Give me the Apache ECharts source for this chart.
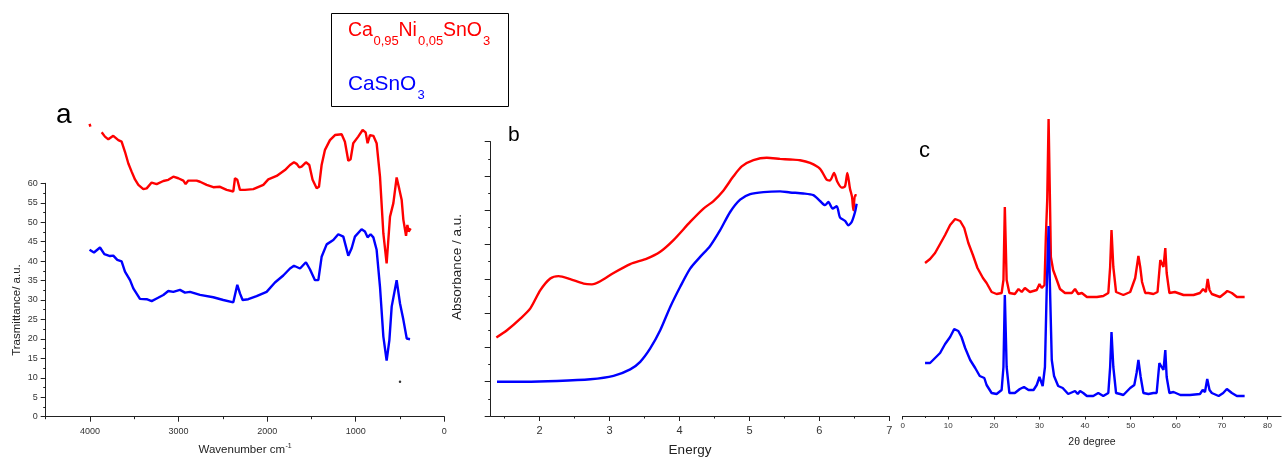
<!DOCTYPE html>
<html>
<head>
<meta charset="utf-8">
<script src="https://cdn.jsdelivr.net/npm/echarts@6/dist/echarts.min.js"></script>
<style>html,body{margin:0;padding:0;background:#fff;}#c{width:1283px;height:457px;}</style>
</head>
<body>
<div id="c"></div>
<script>
// ---------- DATA ----------
// Panel a: FTIR (wavenumber cm-1, transmittance)
const ftirNi = [[4005,75.3],[3995,74.6],[3940,null],[3868,73.1],[3831,72],[3793,71.3],[3737,72.2],[3680,71.1],[3643,70.7],[3605,68.1],[3567,65.1],[3530,63],[3492,61],[3454,59.6],[3398,58.5],[3360,58.7],[3304,60.2],[3247,59.8],[3172,60.6],[3116,60.9],[3059,61.7],[3003,61.3],[2946,60.7],[2920,59.8],[2890,60.7],[2796,60.7],[2758,60.4],[2683,59.6],[2608,59],[2532,59.1],[2457,58.3],[2382,57.9],[2363,61.3],[2337,60.9],[2307,58.3],[2250,58.3],[2156,58.5],[2043,59.6],[1987,61],[1893,61.9],[1799,63.4],[1742,64.7],[1697,65.4],[1667,65],[1637,64.1],[1611,64.3],[1562,65.4],[1524,64.7],[1487,60.9],[1441,58.7],[1415,59.1],[1385,64.7],[1347,68.6],[1291,71.1],[1234,72.4],[1159,72.6],[1122,70.7],[1084,65.8],[1058,66.2],[1028,70.3],[972,72],[922,73.7],[888,73.1],[866,70.3],[839,72.4],[801,72.2],[764,70.3],[726,61.7],[688,47.1],[651,39.4],[613,51.4],[575,54.9],[538,61.5],[508,58.5],[481,55.7],[462,50.6],[432,46.5],[417,49.3],[402,47.6],[380,48.4]];
const ftirCaSnO3 = [[4005,42.9],[3955,42.2],[3887,43.5],[3838,41.8],[3774,41.3],[3737,41.4],[3692,40.3],[3643,39.9],[3605,37.3],[3548,35.1],[3511,33],[3436,30.3],[3360,30.2],[3304,29.7],[3247,30.4],[3172,31.3],[3116,32.3],[3059,32.1],[2984,32.6],[2928,31.9],[2871,32.1],[2758,31.3],[2608,30.7],[2495,30],[2382,29.4],[2337,33.9],[2307,31.7],[2277,30],[2213,30.2],[2119,31],[2006,32.1],[1912,34.5],[1818,36.3],[1742,38.1],[1697,38.8],[1629,38.1],[1562,39.7],[1517,37.9],[1460,35.1],[1422,35.1],[1385,41.1],[1328,44.3],[1253,45.4],[1197,46.9],[1140,46.3],[1084,41.4],[1046,43.3],[1009,46.3],[934,48.2],[896,47.6],[866,46.1],[832,46.9],[801,46.1],[764,42.9],[726,33.4],[688,20.6],[651,14.4],[620,19.7],[594,28.3],[538,35.1],[500,29.1],[462,24.9],[424,20.1],[387,19.9]];
const ftirDot = [[500,9]];
const ftirYTicks = [0,60,5];      // min, max, step
const ftirXTicks = [0,4500,1000];

// Panel b: UV-Vis absorbance vs energy
const uvNi = [[1.381,2.29],[1.533,2.50],[1.724,2.84],[1.867,3.14],[2.01,3.67],[2.152,4.01],[2.271,4.08],[2.438,3.99],[2.629,3.86],[2.748,3.84],[2.867,3.93],[3.057,4.17],[3.295,4.43],[3.533,4.59],[3.724,4.79],[3.914,5.13],[4.152,5.66],[4.343,6.05],[4.486,6.27],[4.629,6.58],[4.771,6.99],[4.89,7.28],[5.057,7.46],[5.248,7.53],[5.438,7.50],[5.581,7.48],[5.724,7.46],[5.867,7.38],[6.01,7.21],[6.105,6.89],[6.152,6.87],[6.21,7.09],[6.257,6.83],[6.319,6.66],[6.367,6.70],[6.40,7.09],[6.438,6.63],[6.467,6.39],[6.486,6.00],[6.51,6.44],[6.533,6.44]];
const uvCaSnO3 = [[1.39,1.00],[1.771,1.00],[2.248,1.02],[2.724,1.07],[3.057,1.17],[3.295,1.36],[3.438,1.58],[3.581,1.97],[3.724,2.50],[3.867,3.18],[4.01,3.77],[4.152,4.30],[4.295,4.64],[4.438,4.96],[4.581,5.42],[4.724,5.95],[4.867,6.31],[5.01,6.47],[5.2,6.53],[5.438,6.55],[5.581,6.52],[5.771,6.49],[5.914,6.44],[6.01,6.27],[6.081,6.15],[6.129,6.24],[6.19,6.05],[6.248,6.12],[6.295,5.79],[6.367,5.69],[6.414,5.56],[6.462,5.66],[6.51,5.95],[6.533,6.19]];
const uvXTicks = [1.3,7];
const uvYTicks = [0,8,1];

// Panel c: XRD (2θ degree, intensity a.u.)
const xrdNi = [[4.9,153],[6.0,157],[7.1,163],[8.2,172],[9.3,181],[10.4,191],[11.5,197],[12.6,195],[13.5,188],[14.4,173],[15.4,161],[16.4,148],[17.6,138],[18.4,133],[19.5,124],[20.6,122],[21.7,123],[22.1,136],[22.4,209],[22.8,136],[23.4,123],[24.6,122],[25.4,127],[26.1,124],[26.8,128],[27.9,124],[29.4,126],[30.0,132],[30.5,128],[31.1,131],[31.4,179],[31.7,216],[32.0,297],[32.3,216],[32.5,159],[33.0,146],[33.8,136],[34.5,127],[35.6,123],[37.1,123],[37.8,127],[38.5,122],[39.3,123],[40.4,119],[42.6,119],[44.0,120],[45.1,123],[45.5,149],[45.8,186],[46.2,149],[46.8,124],[48.4,121],[49.9,124],[51.0,138],[51.7,160],[52.1,149],[52.5,134],[53.2,123],[53.9,123],[55.0,122],[55.9,124],[56.5,156],[56.8,153],[57.2,149],[57.6,168],[57.9,143],[58.5,123],[59.7,124],[61.6,121],[63.8,121],[65.2,123],[65.9,127],[66.5,124],[66.9,137],[67.3,126],[67.8,122],[69.6,119],[70.7,123],[71.2,125],[72.2,123],[73.3,119],[74.4,119],[75.0,119]];
const xrdCaSnO3 = [[4.9,53],[6.0,53],[7.1,58],[8.2,63],[9.3,72],[10.4,79],[11.3,87],[12.2,85],[12.9,79],[13.7,68],[14.8,56],[15.9,48],[16.9,40],[17.9,38],[18.4,31],[19.5,23],[20.6,22],[21.7,26],[22.1,49],[22.4,121],[22.8,49],[23.4,23],[24.6,23],[25.7,27],[26.6,29],[27.6,26],[28.7,26],[29.4,31],[30.0,39],[30.7,30],[31.2,49],[31.6,129],[32.0,190],[32.3,129],[32.7,56],[33.2,40],[34.1,30],[35.1,28],[36.3,22],[37.8,25],[38.4,22],[38.9,25],[39.6,23],[40.4,20],[41.8,20],[42.9,23],[44.0,20],[45.1,23],[45.5,49],[45.8,84],[46.2,49],[46.8,23],[47.7,22],[48.4,21],[49.9,28],[50.8,31],[51.3,43],[51.7,56],[52.2,39],[52.8,23],[53.9,22],[55.0,23],[55.7,23],[56.3,53],[56.8,49],[57.2,46],[57.6,66],[57.9,39],[58.5,23],[59.4,24],[60.9,21],[63.0,21],[65.2,22],[65.8,26],[66.3,24],[66.8,37],[67.3,26],[67.8,23],[69.3,20],[70.3,23],[71.1,27],[72.2,23],[73.3,20],[75.0,20]];
const xrdXTicks = [0,83,10];

const RED = '#ff0000', BLUE = '#0000ff';
const FONT = '"Liberation Sans", Arial, sans-serif';

// ---------- CHART ----------
const chart = echarts.init(document.getElementById('c'), null, {renderer:'canvas'});

const axisCol = '#222';
const plain = v => String(v);
function baseAxis(extra){
  return Object.assign({
    type:'value', splitLine:{show:false},
    axisLine:{show:true, onZero:false, lineStyle:{color:axisCol, width:1}},
    axisTick:{show:true, inside:false, length:5, lineStyle:{color:axisCol}},
    axisLabel:{color:'#333', fontFamily:FONT, fontSize:9, formatter:plain}
  }, extra);
}
function minorAxis(extra){
  return Object.assign({
    type:'value', position:'bottom', splitLine:{show:false},
    axisLine:{show:false, onZero:false},
    axisTick:{show:true, inside:false, length:2.5, lineStyle:{color:axisCol}},
    axisLabel:{show:false}
  }, extra);
}

const pxB = 398.6/(uvXTicks[1]-uvXTicks[0]);
const pxC = 378.4/(xrdXTicks[1]-xrdXTicks[0]);

const lineSeries = (name, data, color, xi, yi, smooth) => ({
  type:'line', name, data, xAxisIndex:xi, yAxisIndex:yi,
  showSymbol:false, symbol:'none', clip:false, smooth: smooth || false,
  lineStyle:{color, width:2.4}, itemStyle:{color}, connectNulls:false, silent:true
});

const option = {
  animation:false,
  backgroundColor:'#fff',
  grid:[
    {left:45.7, top:183.3, width:398.6, height:233.4, outerBoundsMode:'none'},
    {left:490.7, top:141.7, width:398.6, height:274.3, outerBoundsMode:'none'},
    {left:902.7, top:116, width:378.4, height:300, outerBoundsMode:'none'},
    {left:490.7 + 0.2*pxB, top:141.7, width:5.5*pxB, height:274.3, outerBoundsMode:'none'},
    {left:902.7 + 5*pxC, top:116, width:70*pxC, height:300, outerBoundsMode:'none'}
  ],
  xAxis:[
    baseAxis({gridIndex:0, position:'bottom', min:ftirXTicks[0], max:ftirXTicks[1], interval:ftirXTicks[2], inverse:true,
      axisLabel:{color:'#333', fontFamily:FONT, fontSize:9, margin:10, showMaxLabel:false, formatter:plain}}),
    baseAxis({gridIndex:1, position:'bottom', min:uvXTicks[0], max:uvXTicks[1],
      axisLabel:{color:'#333', fontFamily:FONT, fontSize:11, margin:9, showMinLabel:false, formatter:plain}}),
    baseAxis({gridIndex:2, position:'bottom', min:xrdXTicks[0], max:xrdXTicks[1], interval:xrdXTicks[2],
      axisTick:{show:true, length:3.5, lineStyle:{color:axisCol}},
      axisLabel:{color:'#333', fontFamily:FONT, fontSize:8, margin:6, showMaxLabel:false, formatter:plain}}),
    minorAxis({gridIndex:0, min:ftirXTicks[0], max:ftirXTicks[1], interval:500, inverse:true}),
    minorAxis({gridIndex:3, min:1.5, max:7, interval:1}),
    minorAxis({gridIndex:4, min:5, max:75, interval:10, axisTick:{show:true, length:2, lineStyle:{color:axisCol}}})
  ],
  yAxis:[
    baseAxis({gridIndex:0, position:'left', min:ftirYTicks[0], max:ftirYTicks[1], interval:ftirYTicks[2],
      minorTick:{show:true, splitNumber:2, length:2.5, lineStyle:{color:axisCol}},
      axisLabel:{color:'#333', fontFamily:FONT, fontSize:9, margin:8, formatter:plain}}),
    baseAxis({gridIndex:1, position:'left', min:uvYTicks[0], max:uvYTicks[1], interval:uvYTicks[2],
      axisTick:{show:true, length:6, lineStyle:{color:axisCol}},
      minorTick:{show:true, splitNumber:2, length:2.5, lineStyle:{color:axisCol}},
      axisLabel:{show:false}}),
    {type:'value', gridIndex:2, min:0, max:300, show:false},
    {type:'value', gridIndex:3, min:0, max:1, show:false},
    {type:'value', gridIndex:4, min:0, max:1, show:false}
  ],
  series:[
    lineSeries('Ca0,95Ni0,05SnO3 FTIR', ftirNi, RED, 0, 0),
    lineSeries('CaSnO3 FTIR', ftirCaSnO3, BLUE, 0, 0),
    {type:'scatter', data:ftirDot, xAxisIndex:0, yAxisIndex:0, symbolSize:2.5, itemStyle:{color:'#000'}, silent:true},
    lineSeries('Ca0,95Ni0,05SnO3 UV', uvNi, RED, 1, 1, 0.25),
    lineSeries('CaSnO3 UV', uvCaSnO3, BLUE, 1, 1, 0.25),
    lineSeries('Ca0,95Ni0,05SnO3 XRD', xrdNi, RED, 2, 2),
    lineSeries('CaSnO3 XRD', xrdCaSnO3, BLUE, 2, 2)
  ],
  graphic:[
    // legend box
    {type:'rect', shape:{x:331.5, y:13.5, width:177, height:93}, style:{fill:'none', stroke:'#000', lineWidth:1}},
    {type:'text', x:348, y:30.5, style:{text:'Ca', fill:RED, fontFamily:FONT, fontSize:19.5, align:'left', verticalAlign:'middle'}},
    {type:'text', x:373.5, y:41.5, style:{text:'0,95', fill:RED, fontFamily:FONT, fontSize:13, align:'left', verticalAlign:'middle'}},
    {type:'text', x:398.5, y:30.5, style:{text:'Ni', fill:RED, fontFamily:FONT, fontSize:19.5, align:'left', verticalAlign:'middle'}},
    {type:'text', x:418, y:41.5, style:{text:'0,05', fill:RED, fontFamily:FONT, fontSize:13, align:'left', verticalAlign:'middle'}},
    {type:'text', x:443, y:30.5, style:{text:'SnO', fill:RED, fontFamily:FONT, fontSize:19.5, align:'left', verticalAlign:'middle'}},
    {type:'text', x:483, y:41.5, style:{text:'3', fill:RED, fontFamily:FONT, fontSize:13, align:'left', verticalAlign:'middle'}},
    {type:'text', x:348, y:84.5, style:{text:'CaSnO', fill:BLUE, fontFamily:FONT, fontSize:20.8, align:'left', verticalAlign:'middle'}},
    {type:'text', x:417.5, y:95, style:{text:'3', fill:BLUE, fontFamily:FONT, fontSize:13, align:'left', verticalAlign:'middle'}},
    // panel letters
    {type:'text', x:56, y:115, style:{text:'a', fill:'#000', fontFamily:FONT, fontSize:28, align:'left', verticalAlign:'middle'}},
    {type:'text', x:508, y:135.5, style:{text:'b', fill:'#000', fontFamily:FONT, fontSize:21, align:'left', verticalAlign:'middle'}},
    {type:'text', x:919, y:150.5, style:{text:'c', fill:'#000', fontFamily:FONT, fontSize:22, align:'left', verticalAlign:'middle'}},
    // axis titles
    {type:'text', x:17, y:310, rotation:Math.PI/2, style:{text:'Trasmittance/ a.u.', fill:'#222', fontFamily:FONT, fontSize:11.5, align:'center', verticalAlign:'middle'}},
    {type:'text', x:285, y:450, style:{text:'Wavenumber cm', fill:'#222', fontFamily:FONT, fontSize:11.5, align:'right', verticalAlign:'middle'}},
    {type:'text', x:285.5, y:446, style:{text:'-1', fill:'#222', fontFamily:FONT, fontSize:7, align:'left', verticalAlign:'middle'}},
    {type:'text', x:457.5, y:267, rotation:Math.PI/2, style:{text:'Absorbance / a.u.', fill:'#222', fontFamily:FONT, fontSize:13.5, align:'center', verticalAlign:'middle'}},
    {type:'text', x:690, y:450, style:{text:'Energy', fill:'#222', fontFamily:FONT, fontSize:13.5, align:'center', verticalAlign:'middle'}},
    {type:'text', x:1092, y:442, style:{text:'2θ degree', fill:'#222', fontFamily:FONT, fontSize:10.5, align:'center', verticalAlign:'middle'}}
  ]
};
chart.setOption(option);
</script>
</body>
</html>
